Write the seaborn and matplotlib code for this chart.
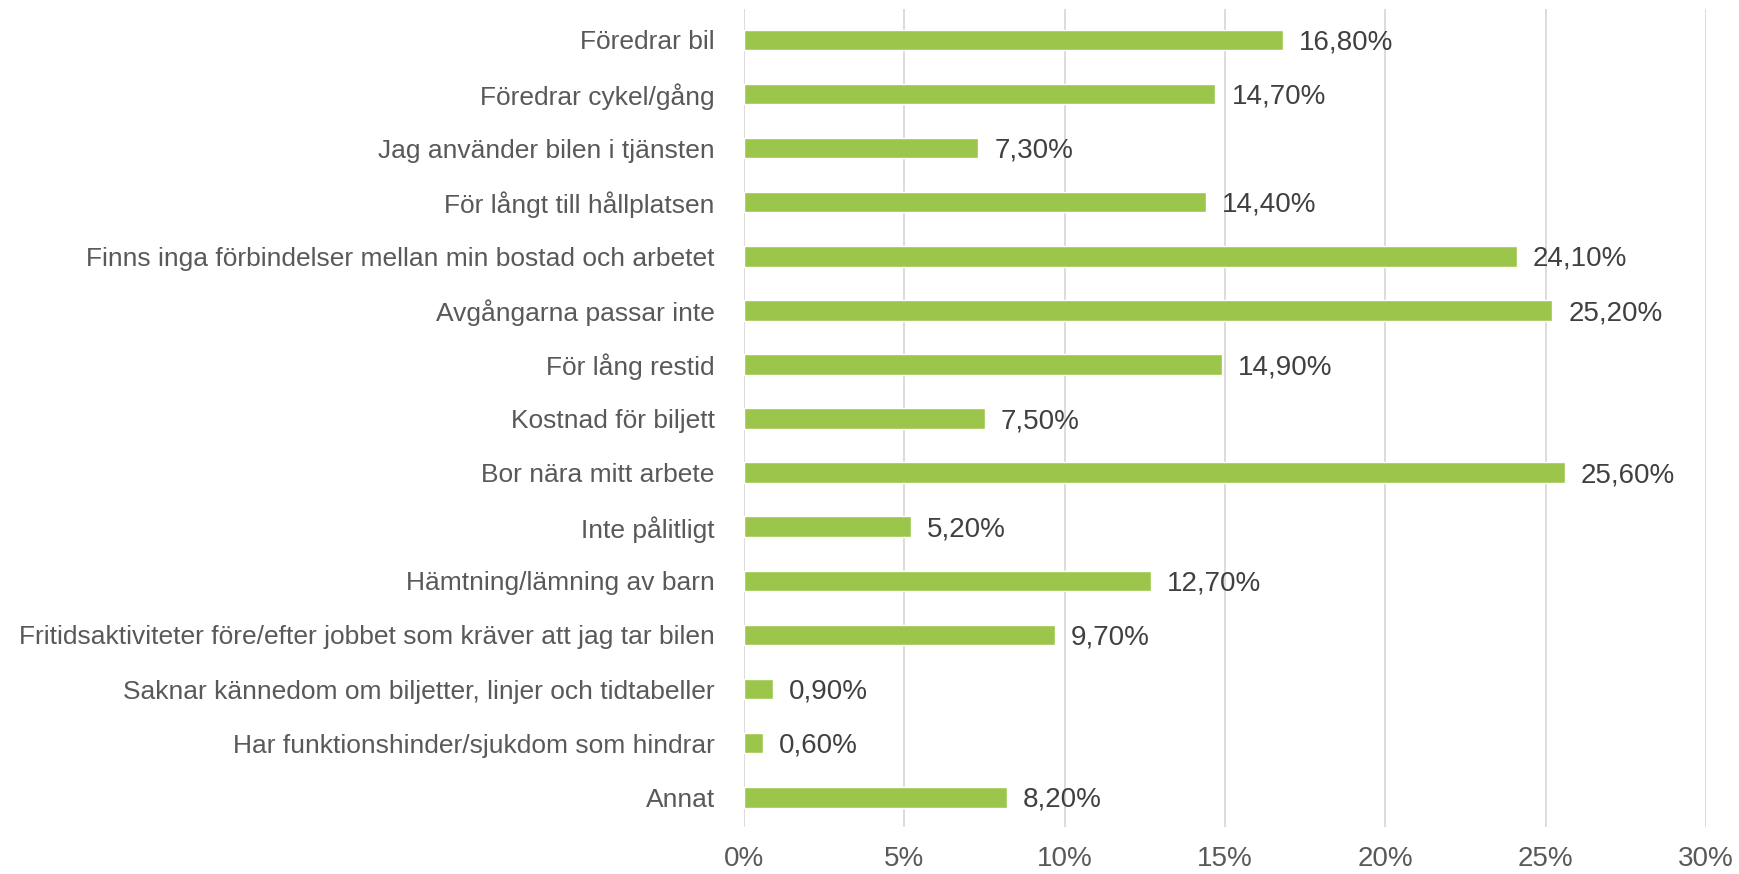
import matplotlib
matplotlib.use("Agg")
import matplotlib.pyplot as plt
import seaborn as sns
import pandas as pd
from matplotlib.ticker import FuncFormatter

categories = [
    "Föredrar bil",
    "Föredrar cykel/gång",
    "Jag använder bilen i tjänsten",
    "För långt till hållplatsen",
    "Finns inga förbindelser mellan min bostad och arbetet",
    "Avgångarna passar inte",
    "För lång restid",
    "Kostnad för biljett",
    "Bor nära mitt arbete",
    "Inte pålitligt",
    "Hämtning/lämning av barn",
    "Fritidsaktiviteter före/efter jobbet som kräver att jag tar bilen",
    "Saknar kännedom om biljetter, linjer och tidtabeller",
    "Har funktionshinder/sjukdom som hindrar",
    "Annat",
]
values = [16.8, 14.7, 7.3, 14.4, 24.1, 25.2, 14.9, 7.5, 25.6, 5.2, 12.7, 9.7, 0.9, 0.6, 8.2]
x_ticks = [0, 5, 10, 15, 20, 25, 30]

sns.set_style("white")
plt.rcParams["font.family"] = ["Liberation Sans Narrow", "Liberation Sans", "DejaVu Sans"]

df = pd.DataFrame({"kategori": categories, "andel": values})

fig = plt.figure(figsize=(17.4, 8.74), dpi=100)
ax = fig.add_axes([0.4276, 0.0538, 0.9805 - 0.4276, 0.9897 - 0.0538])

green = "#9BC64B"
sns.barplot(data=df, x="andel", y="kategori", orient="h", color=green,
            saturation=1, width=0.38, ax=ax)

ax.set_xlim(0, 30)
ax.set_ylim(len(categories) - 0.45, -0.57)
ax.set_xticks(x_ticks)
ax.xaxis.set_major_formatter(FuncFormatter(lambda v, p: f"{v:.0f}%"))
ax.grid(axis="x", color="#D9D9D9", linewidth=1.3)
ax.set_axisbelow(True)
for s in ax.spines.values():
    s.set_visible(False)
ax.set_xlabel("")
ax.set_ylabel("")
ax.tick_params(axis="x", length=0, pad=14, labelsize=20, labelcolor="#595959")
ax.tick_params(axis="y", length=0, pad=21, labelsize=19, labelcolor="#595959")

# datalabels med decimalkomma
for i, v in enumerate(values):
    ax.text(v + 0.5, i + 0.05, f"{v:.2f}%".replace(".", ","), va="center", ha="left",
            fontsize=20, color="#404040")

fig.savefig("out.png", dpi=100)
